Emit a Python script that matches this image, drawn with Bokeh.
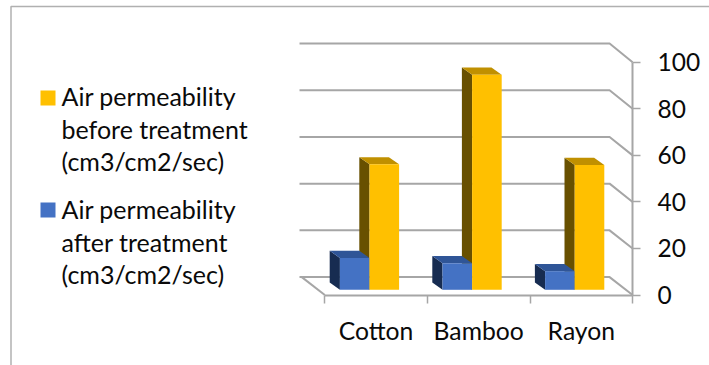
from bokeh.embed import file_html
from bokeh.models import ColumnDataSource, FixedTicker, LinearAxis, Range1d
from bokeh.plotting import figure
from bokeh.resources import INLINE

categories = ["Cotton", "Bamboo", "Rayon"]
before_treatment = [53.9, 92.4, 53.6]
after_treatment = [13.7, 11.4, 8.0]
value_ticks = [0, 20, 40, 60, 80, 100]
legend_before = ["Air permeability", "before treatment", "(cm3/cm2/sec)"]
legend_after = ["Air permeability", "after treatment", "(cm3/cm2/sec)"]

WIDTH, HEIGHT = 709, 365
FONT = "Lato"
GRID = "#a6a6a6"
TEXT = "#0a0a0a"

# Canvas layout: where the front corner of the floor sits and the size of one unit.
ORIGIN_X, ORIGIN_Y = 324.3, 294.5
PX_PER_CATEGORY = 102.6
PX_PER_VALUE = 2.327


def cx(px):
    return (px - ORIGIN_X) / PX_PER_CATEGORY


def cy(px):
    return (ORIGIN_Y - px) / PX_PER_VALUE


p = figure(
    width=WIDTH, height=HEIGHT, output_backend="svg", toolbar_location=None,
    x_axis_location=None, y_axis_location=None, min_border=0,
    x_range=Range1d(cx(0), cx(WIDTH)), y_range=Range1d(cy(HEIGHT), cy(0)),
    background_fill_color="white", border_fill_color="white", outline_line_color=None,
)
p.grid.visible = False

# Outer chart border: only the top and left edges are visible.
p.line([cx(10.5), cx(10.5), cx(WIDTH)], [cy(HEIGHT), cy(6), cy(6)], line_color="#b0b0b0", line_width=1.5)

# Back wall grid lines, each folding down the side wall to its tick.
wall_dx = 23.0 / PX_PER_CATEGORY
wall_dy = 17.9 / PX_PER_VALUE
wall_stretch = 1.004
n = len(categories)
for v in value_ticks:
    back = v * wall_stretch + wall_dy
    p.line([cx(299), n - wall_dx, n], [back, back, v], line_color=GRID, line_width=2)
p.line([-wall_dx, 0], [wall_dy, 0], line_color=GRID, line_width=2)

# Bars are drawn as three faces: front, shaded side and lit top.
bar_w = 29.6 / PX_PER_CATEGORY
gap_shift = 6.6 / PX_PER_CATEGORY
base = 5.2 / PX_PER_VALUE
depth_x = 10.2 / PX_PER_CATEGORY
depth_y = 7.2 / PX_PER_VALUE


def faces(lefts, values):
    front = dict(x=[], y=[])
    side = dict(x=[], y=[])
    top = dict(x=[], y=[])
    for l, v in zip(lefts, values):
        r = l + bar_w
        t = base + v
        front["x"].append([l, r, r, l])
        front["y"].append([base, base, t, t])
        side["x"].append([l, l - depth_x, l - depth_x, l])
        side["y"].append([base, base + depth_y, t + depth_y, t])
        top["x"].append([l, r, r - depth_x, l - depth_x])
        top["y"].append([t, t, t + depth_y, t + depth_y])
    return front, side, top


mid = [i + 0.5 - gap_shift for i in range(n)]
y_front, y_side, y_top = faces(mid, before_treatment)
b_front, b_side, b_top = faces([m - bar_w for m in mid], after_treatment)

p.patches("x", "y", source=ColumnDataSource(y_side), fill_color="#685000", line_color=None)
p.patches("x", "y", source=ColumnDataSource(y_top), fill_color="#C09000", line_color=None)
p.patches("x", "y", source=ColumnDataSource(b_side), fill_color="#172C51", line_color=None)
p.patches("x", "y", source=ColumnDataSource(b_top), fill_color="#2F5597", line_color=None)
p.patches("x", "y", source=ColumnDataSource(b_front), fill_color="#4472C4", line_color=None)
p.patches("x", "y", source=ColumnDataSource(y_front), fill_color="#FFC000", line_color=None)

# Value axis on the right of the floor.
y_axis = LinearAxis(
    fixed_location=n, bounds=(0, 100), ticker=FixedTicker(ticks=value_ticks),
    axis_line_color=GRID, axis_line_width=2,
    major_tick_line_color=GRID, major_tick_line_width=1.5, major_tick_in=0, major_tick_out=8,
    minor_tick_line_color=None, major_label_standoff=17,
    major_label_text_font=FONT, major_label_text_font_size="24.5px", major_label_text_color=TEXT,
)
p.add_layout(y_axis, "right")

# Category axis: labels sit mid-slot, tick marks on the slot boundaries.
x_axis = LinearAxis(
    fixed_location=0, bounds=(0, n),
    ticker=FixedTicker(ticks=[i + 0.5 for i in range(n)], minor_ticks=list(range(n + 1))),
    major_label_overrides={i + 0.5: c for i, c in enumerate(categories)},
    axis_line_color=GRID, axis_line_width=2,
    major_tick_line_color=None, major_tick_in=0, major_tick_out=0,
    minor_tick_line_color=GRID, minor_tick_line_width=1.5, minor_tick_in=0, minor_tick_out=8,
    major_label_standoff=13, major_label_orientation="horizontal",
    major_label_text_font=FONT, major_label_text_font_size="24.7px", major_label_text_color=TEXT,
)
p.add_layout(x_axis, "below")

# Legend, stacked by hand so the wrapped lines keep their spacing.
for lines, colour, top_px, text_px in [
    (legend_before, "#FFC000", 90, 95.5),
    (legend_after, "#4472C4", 202, 208.5),
]:
    p.patches(
        [[cx(40), cx(55), cx(55), cx(40)]],
        [[cy(top_px), cy(top_px), cy(top_px + 15), cy(top_px + 15)]],
        fill_color=colour, line_color=None,
    )
    p.text(
        x=[cx(61)] * len(lines),
        y=[cy(text_px + 32.5 * i) for i in range(len(lines))],
        text=lines, text_font={"value": FONT}, text_font_size={"value": "25px"},
        text_color=TEXT, text_baseline="middle", text_align="left",
    )

open("out.html", "w").write(file_html(p, INLINE))
